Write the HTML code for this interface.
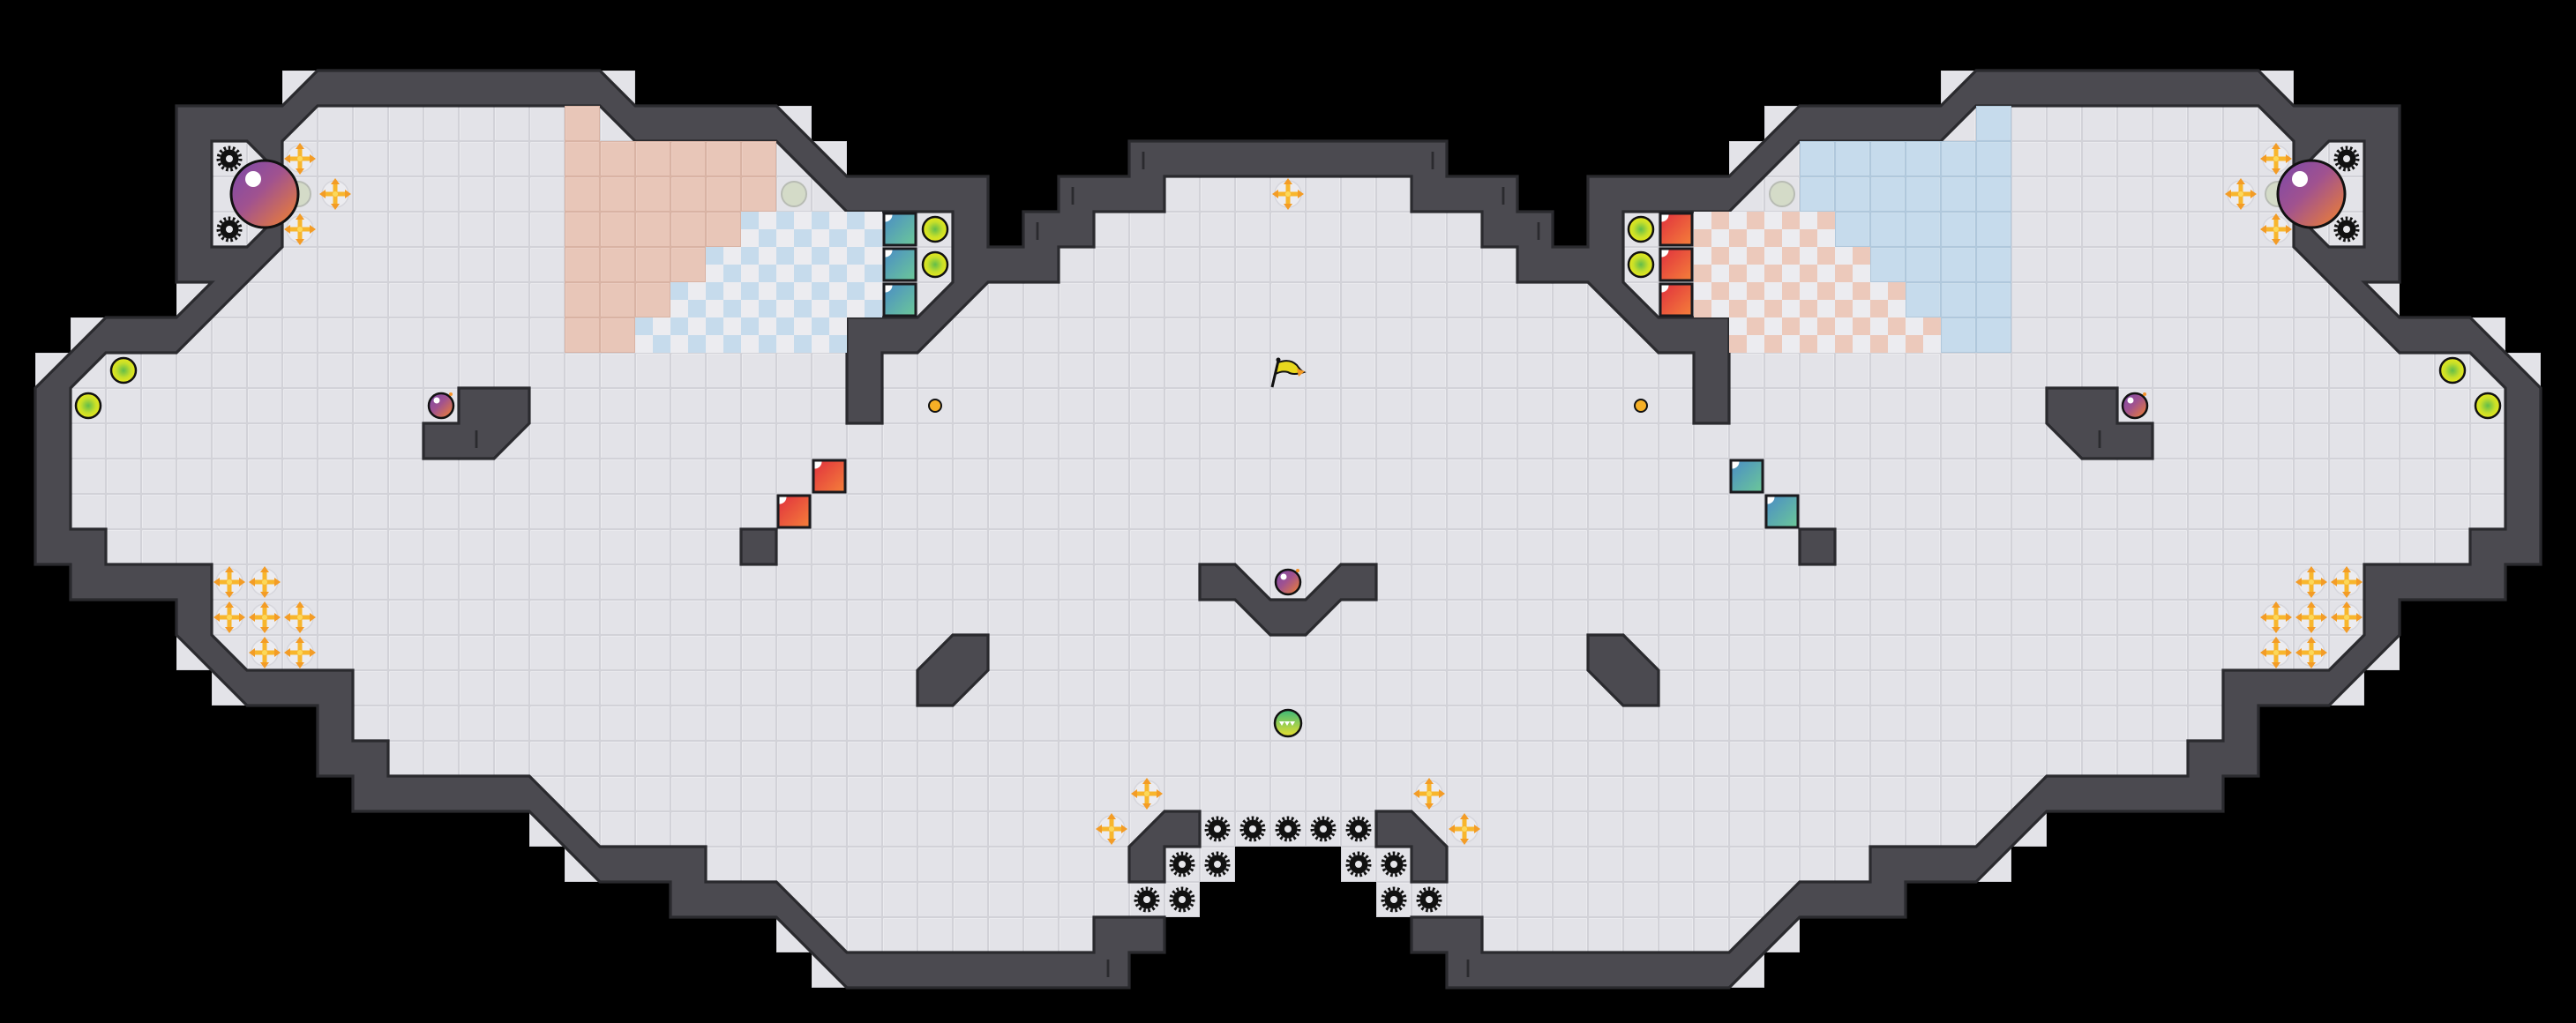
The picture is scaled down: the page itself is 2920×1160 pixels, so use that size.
<!DOCTYPE html>
<html><head><meta charset="utf-8"><style>html,body{margin:0;padding:0;background:#000}svg{display:block}</style></head>
<body>
<svg xmlns="http://www.w3.org/2000/svg" xmlns:xlink="http://www.w3.org/1999/xlink" width="2920" height="1160" viewBox="0 0 2920 1160">
<defs>
  <pattern id="tile" patternUnits="userSpaceOnUse" width="1" height="1">
    <rect width="1" height="1" fill="#d2d2d8"/>
    <rect x="0.03" y="0.03" width="0.94" height="0.94" fill="#f1f1f4"/>
    <rect x="0.05" y="0.05" width="0.92" height="0.92" fill="#e3e3e8"/>
  </pattern>
  <pattern id="salT" patternUnits="userSpaceOnUse" width="1" height="1">
    <rect width="1" height="1" fill="#d9b3a4"/>
    <rect x="0.03" y="0.03" width="0.94" height="0.94" fill="#f0d3c7"/>
    <rect x="0.05" y="0.05" width="0.92" height="0.92" fill="#e8c6b8"/>
  </pattern>
  <pattern id="bluT" patternUnits="userSpaceOnUse" width="1" height="1">
    <rect width="1" height="1" fill="#b0c8dc"/>
    <rect x="0.03" y="0.03" width="0.94" height="0.94" fill="#d4e4f1"/>
    <rect x="0.05" y="0.05" width="0.92" height="0.92" fill="#c6dbec"/>
  </pattern>
  <pattern id="chkB" patternUnits="userSpaceOnUse" width="1" height="1">
    <rect width="1" height="1" fill="#ececf0"/>
    <rect width="0.5" height="0.5" fill="#c6dbec"/>
    <rect x="0.5" y="0.5" width="0.5" height="0.5" fill="#c6dbec"/>
  </pattern>
  <pattern id="chkS" patternUnits="userSpaceOnUse" width="1" height="1">
    <rect width="1" height="1" fill="#ececf0"/>
    <rect width="0.5" height="0.5" fill="#ecc9bb"/>
    <rect x="0.5" y="0.5" width="0.5" height="0.5" fill="#ecc9bb"/>
  </pattern>
  <radialGradient id="yg" cx="0.5" cy="0.5" r="0.5">
    <stop offset="0" stop-color="#62bd4a"/><stop offset="0.6" stop-color="#c6df2a"/><stop offset="1" stop-color="#e8e81c"/>
  </radialGradient>
  <linearGradient id="big" x1="0" y1="0" x2="1" y2="1">
    <stop offset="0" stop-color="#7a48ab"/><stop offset="0.45" stop-color="#a0528f"/><stop offset="1" stop-color="#f5842a"/>
  </linearGradient>
  <linearGradient id="teal" x1="0" y1="0" x2="1" y2="1">
    <stop offset="0" stop-color="#4a8cc6"/><stop offset="1" stop-color="#6cc898"/>
  </linearGradient>
  <linearGradient id="red" x1="0" y1="0" x2="1" y2="1">
    <stop offset="0" stop-color="#e0303e"/><stop offset="1" stop-color="#f5803a"/>
  </linearGradient>
  <linearGradient id="gball" x1="0" y1="0" x2="0" y2="1">
    <stop offset="0" stop-color="#3cb878"/><stop offset="1" stop-color="#e8e030"/>
  </linearGradient>
  <g id="cr">
    <circle r="15" fill="#ececf0" stroke="#d6d6dc" stroke-width="1.5"/>
    <path d="M-12 0H12M0-12V12" stroke="#f8b62c" stroke-width="5" stroke-linecap="round"/>
    <path d="M0-18L-5-11L5-11ZM0 18L-5 11L5 11ZM-18 0L-11-5L-11 5ZM18 0L11-5L11 5Z" fill="#f39c26"/>
    <circle r="3" fill="#fcd85a"/>
  </g>
  <g id="gr">
    <circle r="10.5" fill="#111"/>
    <circle r="12.5" fill="none" stroke="#111" stroke-width="4" stroke-dasharray="2.6 2.6"/>
    <circle r="4" fill="#e6e6ea"/>
  </g>
  <g id="yb"><circle r="14" fill="url(#yg)" stroke="#111" stroke-width="2.5"/></g>
  <g id="bomb">
    <circle r="14" fill="url(#big)" stroke="#111" stroke-width="2.5"/>
    <circle cx="-5" cy="-6" r="3.5" fill="#fff"/>
    <circle cx="11" cy="-13" r="2" fill="#f5922a"/>
  </g>
  <g id="fade"><circle r="14" fill="#d4dbc8" stroke="#b8bcb4" stroke-width="2"/></g>
  <g id="tb">
    <rect x="-18" y="-18" width="36" height="36" fill="url(#teal)" stroke="#1a1a1e" stroke-width="3"/>
    <path d="M-16.5 -16.5h8a8 8 0 0 1 -8 8z" fill="#fff"/>
  </g>
  <g id="rb">
    <rect x="-18" y="-18" width="36" height="36" fill="url(#red)" stroke="#1a1a1e" stroke-width="3"/>
    <path d="M-16.5 -16.5h8a8 8 0 0 1 -8 8z" fill="#fff"/>
  </g>

  <g id="half">
    <g transform="scale(40)">
      <polygon fill="url(#tile)" points="36.6,4 32,4 32,5 30,5 30,6 29,6 29,7 28,7 28,5 24,5 24,4 23,4 23,3 22,3 18,3 18,2 17,2 9,2 8,2 8,3 5,3 5,9 3,9 2,9 2,10 1,10 1,16 2,16 2,17 5,17 5,19 6,19 6,20 9,20 9,22 10,22 10,23 15,23 15,24 16,24 16,25 19,25 19,26 22,26 22,27 23,27 23,28 32,28 32,27 33,27 33,26 34,26 34,25 35,25 35,24 36.6,24"/>
      <path fill="#4b4a50" fill-rule="evenodd" d="M36.6,4 L32,4 32,5 30,5 30,6 29,6 29,7 28,7 28,5 24,5 22,3 18,3 17,2 9,2 8,3 5,3 5,8 6,8 5,9 3,9 1,11 1,16 2,16 2,17 5,17 5,18 7,20 9,20 9,22 10,22 10,23 15,23 17,25 19,25 19,26 22,26 24,28 32,28 32,27 33,27 33,26 31,26 31,27 24,27 22,25 20,25 20,24 17,24 15,22 11,22 11,21 10,21 10,19 7,19 6,18 6,16 3,16 3,15 2,15 2,11 3,10 5,10 8,7 8,4 9,3 17,3 18,4 22,4 24,6 27,6 27,8 26,9 24,9 24,12 25,12 25,10 26,10 28,8 30,8 30,7 31,7 31,6 33,6 33,5 36.6,5 Z M6,4 L7,4 8,5 8,6 7,7 6,7 Z"/>
      <path fill="none" stroke="#2a2a2e" stroke-width="0.08" stroke-linejoin="miter" d="M36.6,4 L32,4 32,5 30,5 30,6 29,6 29,7 28,7 28,5 24,5 22,3 18,3 17,2 9,2 8,3 5,3 5,8 6,8 5,9 3,9 1,11 1,16 2,16 2,17 5,17 5,18 7,20 9,20 9,22 10,22 10,23 15,23 17,25 19,25 19,26 22,26 24,28 32,28 32,27 33,27 33,26 31,26 31,27 24,27 22,25 20,25 20,24 17,24 15,22 11,22 11,21 10,21 10,19 7,19 6,18 6,16 3,16 3,15 2,15 2,11 3,10 5,10 8,7 8,4 9,3 17,3 18,4 22,4 24,6 27,6 27,8 26,9 24,9 24,12 25,12 25,10 26,10 28,8 30,8 30,7 31,7 31,6 33,6 33,5 36.6,5 M6,4 L7,4 8,5 8,6 7,7 6,7 Z"/>
      <g fill="#4b4a50" stroke="#2a2a2e" stroke-width="0.08">
        <polygon points="13,11 15,11 15,12 14,13 12,13 12,12 13,12"/>
        <rect x="21" y="15" width="1" height="1"/>
        <polygon points="27,18 28,18 28,19 27,20 26,20 26,19"/>
        <polygon points="33,23 34,23 34,24 33,24 33,25 32,25 32,24"/>
      </g>
      <g stroke="#2a2a2e" stroke-width="0.07">
        <line x1="13.5" y1="12.2" x2="13.5" y2="12.7"/>
        <line x1="29.4" y1="6.3" x2="29.4" y2="6.8"/>
        <line x1="30.4" y1="5.3" x2="30.4" y2="5.8"/>
        <line x1="32.4" y1="4.3" x2="32.4" y2="4.8"/>
        <line x1="31.4" y1="27.2" x2="31.4" y2="27.7"/>
      </g>
    </g>
  </g>
</defs>

<rect width="2920" height="1160" fill="#000"/>
<use xlink:href="#half" href="#half"/>
<use xlink:href="#half" href="#half" transform="matrix(-1 0 0 1 2920 0)"/>

<g transform="scale(40)">
  <polygon fill="#4b4a50" stroke="#2a2a2e" stroke-width="0.08" points="34,16 35,16 36,17 37,17 38,16 39,16 39,17 38,17 37,18 36,18 35,17 34,17"/>
</g>

<g transform="scale(40)">
  <polygon fill="url(#salT)" points="16,3 17,3 17,4 22,4 22,6 21,6 21,7 20,7 20,8 19,8 19,9 18,9 18,10 16,10"/>
  <polygon fill="url(#chkB)" points="21,6 25,6 25,9 24,9 24,10 18,10 18,9 19,9 19,8 20,8 20,7 21,7"/>
</g>
<g transform="translate(2920,0) scale(-40,40)">
  <polygon fill="url(#bluT)" points="16,3 17,3 17,4 22,4 22,6 21,6 21,7 20,7 20,8 19,8 19,9 18,9 18,10 16,10"/>
  <polygon fill="url(#chkS)" points="21,6 25,6 25,9 24,9 24,10 18,10 18,9 19,9 19,8 20,8 20,7 21,7"/>
</g>

<g>
  <use href="#gr" x="260" y="180"/><use href="#gr" x="260" y="260"/>
  <use href="#gr" x="2660" y="180"/><use href="#gr" x="2660" y="260"/>
  <use href="#gr" x="1380" y="940"/><use href="#gr" x="1420" y="940"/><use href="#gr" x="1460" y="940"/><use href="#gr" x="1500" y="940"/><use href="#gr" x="1540" y="940"/>
  <use href="#gr" x="1340" y="980"/><use href="#gr" x="1380" y="980"/><use href="#gr" x="1540" y="980"/><use href="#gr" x="1580" y="980"/>
  <use href="#gr" x="1300" y="1020"/><use href="#gr" x="1340" y="1020"/><use href="#gr" x="1580" y="1020"/><use href="#gr" x="1620" y="1020"/>
</g>

<use href="#fade" x="338" y="220"/><use href="#fade" x="900" y="220"/>
<use href="#fade" x="2582" y="220"/><use href="#fade" x="2020" y="220"/>

<g>
  <circle cx="300" cy="220" r="38" fill="url(#big)" stroke="#111" stroke-width="3"/>
  <circle cx="287" cy="203" r="9" fill="#fff"/>
  <circle cx="2620" cy="220" r="38" fill="url(#big)" stroke="#111" stroke-width="3"/>
  <circle cx="2607" cy="203" r="9" fill="#fff"/>
</g>

<g>
  <use href="#cr" x="340" y="180"/><use href="#cr" x="380" y="220"/><use href="#cr" x="340" y="260"/>
  <use href="#cr" x="2580" y="180"/><use href="#cr" x="2540" y="220"/><use href="#cr" x="2580" y="260"/>
  <use href="#cr" x="1460" y="220"/>
  <use href="#cr" x="260" y="660"/><use href="#cr" x="300" y="660"/><use href="#cr" x="260" y="700"/><use href="#cr" x="300" y="700"/><use href="#cr" x="340" y="700"/><use href="#cr" x="300" y="740"/><use href="#cr" x="340" y="740"/>
  <use href="#cr" x="2660" y="660"/><use href="#cr" x="2620" y="660"/><use href="#cr" x="2660" y="700"/><use href="#cr" x="2620" y="700"/><use href="#cr" x="2580" y="700"/><use href="#cr" x="2620" y="740"/><use href="#cr" x="2580" y="740"/>
  <use href="#cr" x="1300" y="900"/><use href="#cr" x="1260" y="940"/>
  <use href="#cr" x="1620" y="900"/><use href="#cr" x="1660" y="940"/>
</g>

<use href="#yb" x="140" y="420"/><use href="#yb" x="100" y="460"/>
<use href="#yb" x="1060" y="260"/><use href="#yb" x="1060" y="300"/>
<use href="#yb" x="2780" y="420"/><use href="#yb" x="2820" y="460"/>
<use href="#yb" x="1860" y="260"/><use href="#yb" x="1860" y="300"/>

<use href="#tb" x="1020" y="260"/><use href="#tb" x="1020" y="300"/><use href="#tb" x="1020" y="340"/>
<use href="#rb" x="1900" y="260"/><use href="#rb" x="1900" y="300"/><use href="#rb" x="1900" y="340"/>
<use href="#rb" x="940" y="540"/><use href="#rb" x="900" y="580"/>
<use href="#tb" x="1980" y="540"/><use href="#tb" x="2020" y="580"/>

<circle cx="1060" cy="460" r="7" fill="#f6b026" stroke="#111" stroke-width="2"/>
<circle cx="1860" cy="460" r="7" fill="#f6b026" stroke="#111" stroke-width="2"/>

<use href="#bomb" x="500" y="460"/><use href="#bomb" x="2420" y="460"/><use href="#bomb" x="1460" y="660"/>

<g>
  <circle cx="1460" cy="820" r="15" fill="url(#gball)" stroke="#111" stroke-width="2.5"/>
  <path d="M1450 818 l3 5 l3 -5 l3 5 l3 -5 l3 5 l3 -5z" fill="#fff"/>
</g>

<g>
  <line x1="1442" y1="439" x2="1449" y2="409" stroke="#111" stroke-width="3"/>
  <circle cx="1449" cy="408" r="2.5" fill="#111"/>
  <path d="M1449 411 Q1462 406 1470 414 Q1474 420 1478 422 Q1466 426 1460 422 Q1453 420 1446 424 Z" fill="#e8d81e" stroke="#111" stroke-width="2"/>
  <path d="M1470 418 L1479 421 L1472 427 Z" fill="#f39a26"/>
</g>
</svg>
</body></html>
